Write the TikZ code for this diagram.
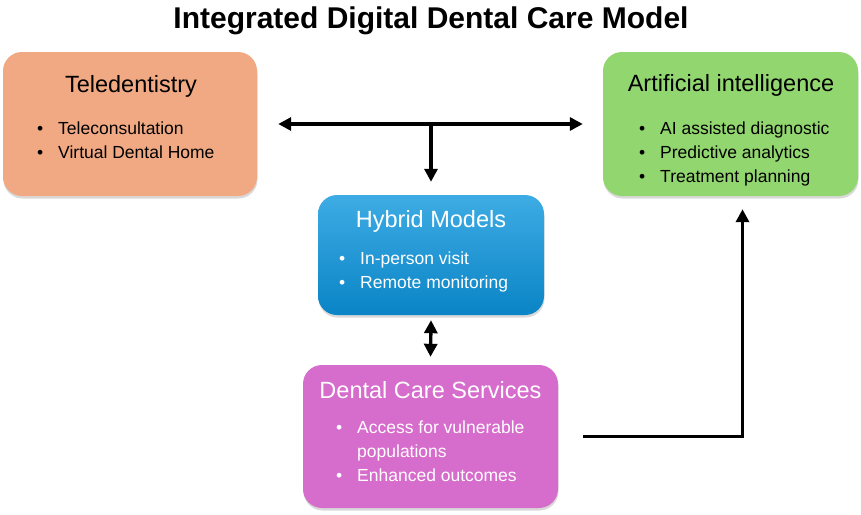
\documentclass[tikz,border=0pt]{standalone}
\usepackage{fontspec}
\setmainfont{Liberation Sans}
\usetikzlibrary{arrows.meta,shadows}
\definecolor{teleC}{RGB}{241,169,131}
\definecolor{aiC}{RGB}{146,214,111}
\definecolor{hybTop}{RGB}{62,172,228}
\definecolor{hybBot}{RGB}{10,132,198}
\definecolor{dcsC}{RGB}{214,108,204}
\newcommand\bul{\makebox[21pt][l]{\textbullet}}
\tikzset{
	box/.style={rounded corners=19pt, inner sep=0pt, drop shadow={shadow xshift=0.5pt, shadow yshift=-2.5pt, opacity=0.3}},
	head/.style={font=\fontsize{23.5}{28}\selectfont, anchor=base, inner sep=0pt},
	items/.style={font=\fontsize{17.5}{24}\selectfont, anchor=base west, inner sep=0pt},
	link/.style={line width=3.4pt}
}
\begin{document}
\begin{tikzpicture}[>={Triangle[length=13pt,width=13pt]}, x=1pt, y=-1pt]
		\useasboundingbox (0,0) rectangle (861,514);
		\node[font=\bfseries\fontsize{30}{36}\selectfont, anchor=base, inner sep=0pt] (ttl) at (431,28) {Integrated Digital Dental Care Model};
		\node[box, fill=teleC, minimum width=254pt, minimum height=144pt] (tele) at (130,124) {};
		\node[box, fill=aiC, minimum width=255pt, minimum height=144pt] (ai) at (730.5,124) {};
		\node[box, top color=hybTop, bottom color=hybBot, minimum width=226pt, minimum height=120pt] (hyb) at (431,255) {};
		\node[box, fill=dcsC, minimum width=255pt, minimum height=143pt] (dcs) at (430.5,436.5) {};
		\node[head] (teleT) at (131,92) {Teledentistry};
		\node[items] (teleL) at (37,134) {\begin{tabular}[t]{@{}l@{}}\bul Teleconsultation\\ \bul Virtual Dental Home\end{tabular}};
		\node[head] (aiT) at (731,91) {Artificial intelligence};
		\node[items] (aiL) at (639,134) {\begin{tabular}[t]{@{}l@{}}\bul AI assisted diagnostic\\ \bul Predictive analytics\\ \bul Treatment planning\end{tabular}};
		\node[head, text=white] (hybT) at (431,227) {Hybrid Models};
		\node[items, text=white] (hybL) at (339,264) {\begin{tabular}[t]{@{}l@{}}\bul In-person visit\\ \bul Remote monitoring\end{tabular}};
		\node[head, text=white] (dcsT) at (430.5,398) {Dental Care Services};
		\node[items, text=white] (dcsL) at (336,433) {\begin{tabular}[t]{@{}l@{}}\bul Access for vulnerable\\ \hspace*{21pt}populations\\ \bul Enhanced outcomes\end{tabular}};
		\coordinate (jn) at (hyb.north |- tele.east);
		\draw[link,<->] ([xshift=21pt]tele.east) -- ([xshift=-20pt]ai.west);
		\draw[link,->] (jn) -- ([yshift=13pt]hyb.north);
		\draw[link,<->] ([yshift=-5pt]hyb.south) -- ([yshift=8pt]dcs.north);
		\draw[link,->] ([xshift=25pt]dcs.east) -| ([xshift=12pt,yshift=-13pt]ai.south);
\end{tikzpicture}
\end{document}
